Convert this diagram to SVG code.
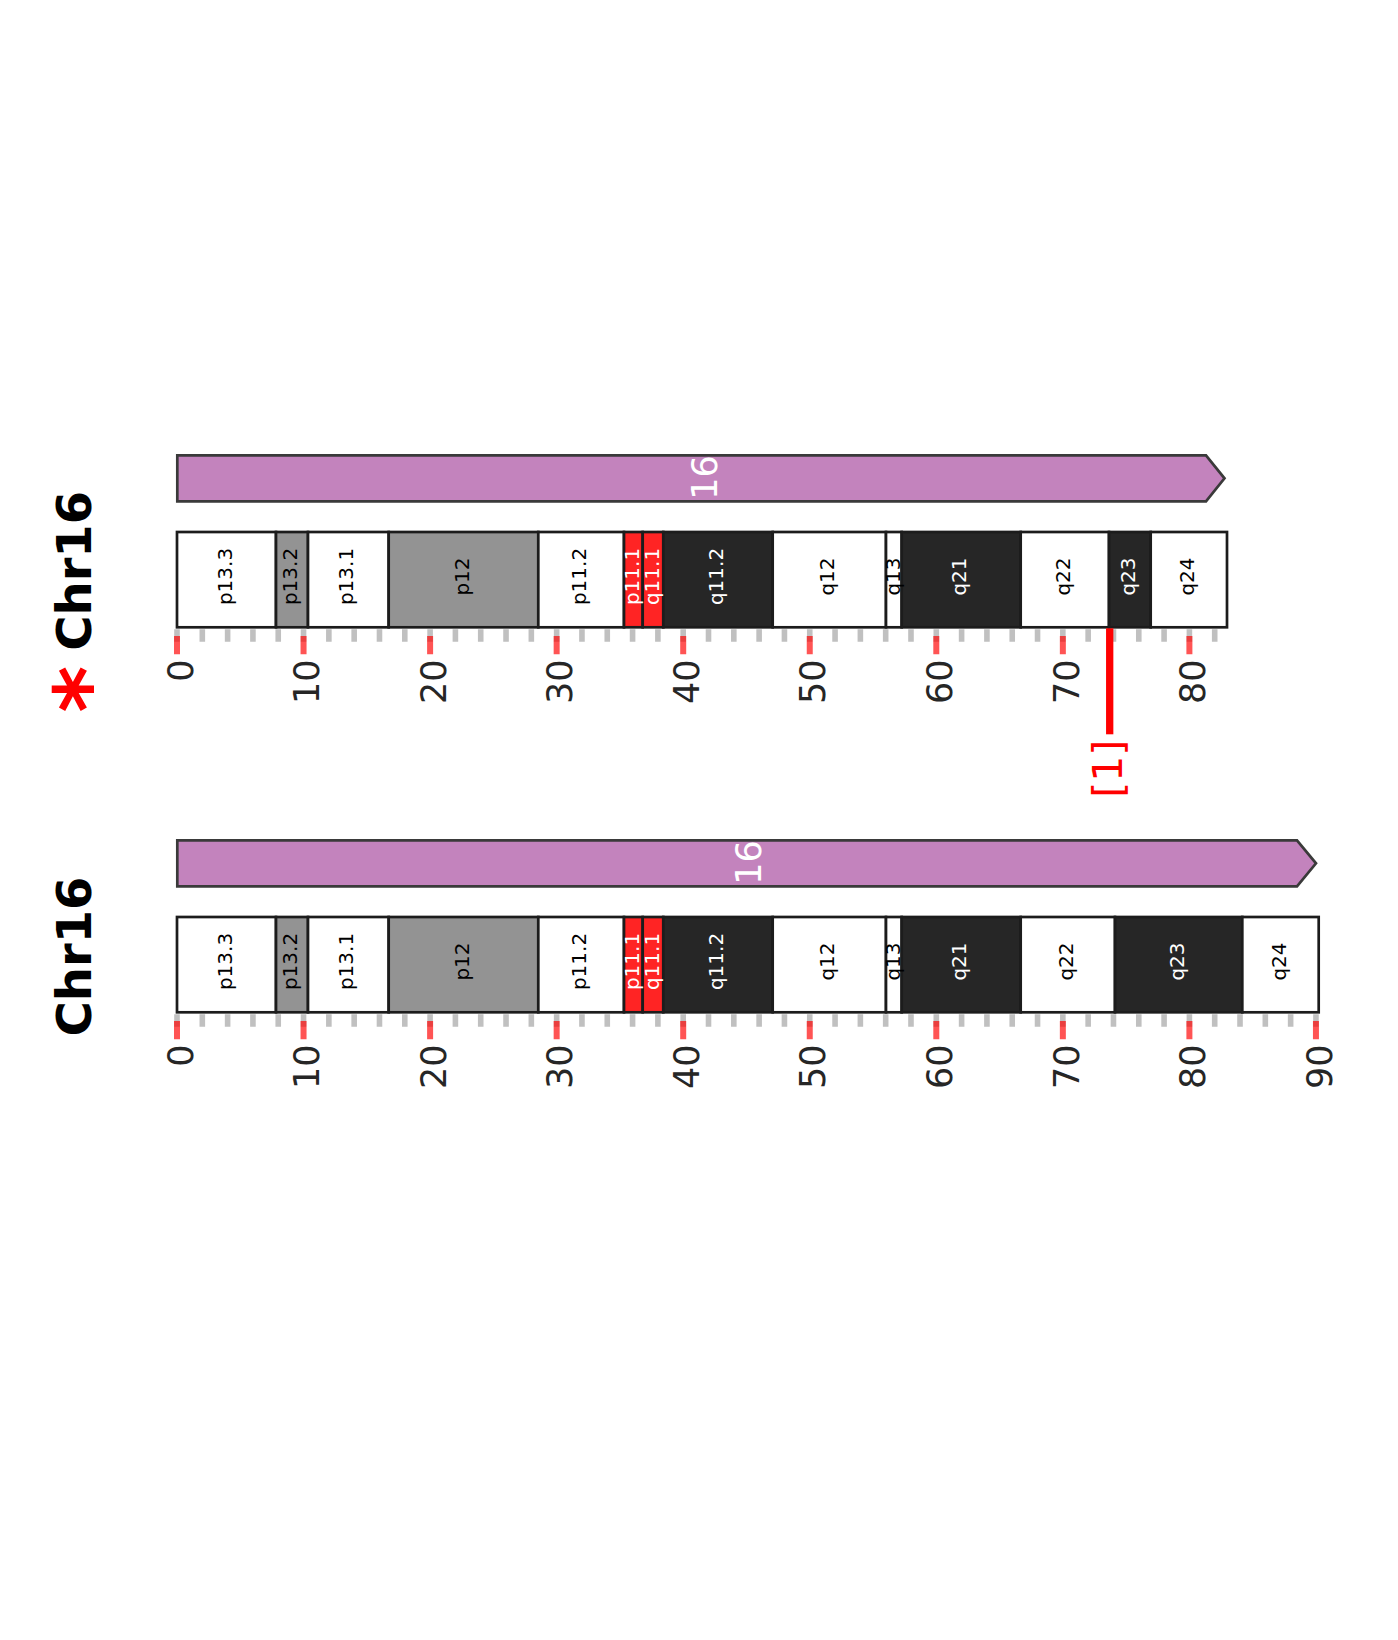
<svg xmlns="http://www.w3.org/2000/svg" width="1398" height="1640" viewBox="0 0 1398 1640">
<style>
.bg{fill:#ffffff}
.bar{fill:#c383bd;stroke:#3a3a3a;stroke-width:2.7;stroke-linejoin:miter}
.band{stroke:#1c1c1c;stroke-width:2.7}
.w{fill:#ffffff}.g{fill:#939393}.d{fill:#262626}.r{fill:#ff2424}
.lbl{font-family:"DejaVu Sans",sans-serif;font-size:20px;text-anchor:middle}
.lk{fill:#000000}.lw{fill:#ffffff}
.tickg{stroke:#c0c0c0;stroke-width:12.4;fill:none}
.tickr{stroke:#ff0000;stroke-opacity:0.67;stroke-width:18.3;fill:none}
.tl{font-family:"DejaVu Sans",sans-serif;font-size:35px;fill:#262626;text-anchor:end}
.title{font-family:"DejaVu Sans",sans-serif;font-size:48px;font-weight:bold;fill:#000000}
.num{font-family:"DejaVu Sans",sans-serif;font-size:35px;fill:#ffffff;text-anchor:middle}
</style>
<rect class="bg" x="0" y="0" width="1398" height="1640"/>

<g id="title-top">
<text class="title" transform="translate(91.3,650.7) rotate(-90)">Chr16</text>
<text transform="translate(119,689.3) rotate(-90)" style="font-family:'DejaVu Sans',sans-serif;font-size:90px;font-weight:bold;fill:#ff0000;text-anchor:middle">*</text>
</g>

<g id="chrom-top-bar">
<polygon class="bar" points="177.3,455.3 1206,455.3 1224.5,478.3 1206,501.3 177.3,501.3"/>
<text class="num" transform="translate(716.5,477.5) rotate(-90)">16</text>
</g>

<g id="chrom-top-bands">
<rect class="band w" x="177" y="532" width="99" height="95.3"/>
<rect class="band g" x="276" y="532" width="32" height="95.3"/>
<rect class="band w" x="308" y="532" width="80.7" height="95.3"/>
<rect class="band g" x="388.7" y="532" width="149.6" height="95.3"/>
<rect class="band w" x="538.3" y="532" width="85.7" height="95.3"/>
<rect class="band r" x="624" y="532" width="18.7" height="95.3"/>
<rect class="band r" x="642.7" y="532" width="20.6" height="95.3"/>
<rect class="band d" x="663.3" y="532" width="109.4" height="95.3"/>
<rect class="band w" x="772.7" y="532" width="113.3" height="95.3"/>
<rect class="band w" x="886" y="532" width="15.7" height="95.3"/>
<rect class="band d" x="901.7" y="532" width="119" height="95.3"/>
<rect class="band w" x="1020.7" y="532" width="88.3" height="95.3"/>
<rect class="band d" x="1109" y="532" width="41.7" height="95.3"/>
<rect class="band w" x="1150.7" y="532" width="76.3" height="95.3"/>
<g class="lbl">
<text class="lk" transform="translate(231.5,576.5) rotate(-90)">p13.3</text>
<text class="lk" transform="translate(297,576.5) rotate(-90)">p13.2</text>
<text class="lk" transform="translate(353.3,576.5) rotate(-90)">p13.1</text>
<text class="lk" transform="translate(468.5,576.5) rotate(-90)">p12</text>
<text class="lk" transform="translate(586.2,576.5) rotate(-90)">p11.2</text>
<text class="lw" transform="translate(639.3,576.5) rotate(-90)">p11.1</text>
<text class="lw" transform="translate(659,576.5) rotate(-90)">q11.1</text>
<text class="lw" transform="translate(723,576.5) rotate(-90)">q11.2</text>
<text class="lk" transform="translate(834.3,576.5) rotate(-90)">q12</text>
<text class="lk" transform="translate(899.8,576.5) rotate(-90)">q13</text>
<text class="lw" transform="translate(966.2,576.5) rotate(-90)">q21</text>
<text class="lk" transform="translate(1069.8,576.5) rotate(-90)">q22</text>
<text class="lw" transform="translate(1134.8,576.5) rotate(-90)">q23</text>
<text class="lk" transform="translate(1193.8,576.5) rotate(-90)">q24</text>
</g>
</g>

<g id="axis-top">
<line class="tickg" x1="174.2" y1="635.5" x2="1217.5" y2="635.5" stroke-dasharray="5.6 19.71"/>
<line class="tickr" x1="174" y1="645.2" x2="1193" y2="645.2" stroke-dasharray="6 120.55"/>
<text class="tl" transform="translate(192.6,659.4) rotate(-90)">0</text>
<text class="tl" transform="translate(319.2,659.4) rotate(-90)">10</text>
<text class="tl" transform="translate(445.7,659.4) rotate(-90)">20</text>
<text class="tl" transform="translate(572.3,659.4) rotate(-90)">30</text>
<text class="tl" transform="translate(698.8,659.4) rotate(-90)">40</text>
<text class="tl" transform="translate(825.4,659.4) rotate(-90)">50</text>
<text class="tl" transform="translate(951.9,659.4) rotate(-90)">60</text>
<text class="tl" transform="translate(1078.5,659.4) rotate(-90)">70</text>
<text class="tl" transform="translate(1205,659.4) rotate(-90)">80</text>
</g>

<g id="marker-1">
<line x1="1109.7" y1="628.3" x2="1109.7" y2="734.3" stroke="#ff0000" stroke-width="7.3"/>
<text transform="translate(1122,768.8) rotate(-90)" style="font-family:'DejaVu Sans',sans-serif;font-size:41px;fill:#ff0000;text-anchor:middle">[1]</text>
</g>

<g id="title-bottom">
<text class="title" transform="translate(91.3,1036.4) rotate(-90)">Chr16</text>
</g>

<g id="chrom-bottom-bar">
<polygon class="bar" points="177.3,840.3 1297,840.3 1316,863.3 1297,886.3 177.3,886.3"/>
<text class="num" transform="translate(761,862.5) rotate(-90)">16</text>
</g>

<g id="chrom-bottom-bands">
<rect class="band w" x="177" y="917" width="99" height="95.3"/>
<rect class="band g" x="276" y="917" width="32" height="95.3"/>
<rect class="band w" x="308" y="917" width="80.7" height="95.3"/>
<rect class="band g" x="388.7" y="917" width="149.6" height="95.3"/>
<rect class="band w" x="538.3" y="917" width="85.7" height="95.3"/>
<rect class="band r" x="624" y="917" width="18.7" height="95.3"/>
<rect class="band r" x="642.7" y="917" width="20.6" height="95.3"/>
<rect class="band d" x="663.3" y="917" width="109.4" height="95.3"/>
<rect class="band w" x="772.7" y="917" width="113.3" height="95.3"/>
<rect class="band w" x="886" y="917" width="15.7" height="95.3"/>
<rect class="band d" x="901.7" y="917" width="119" height="95.3"/>
<rect class="band w" x="1020.7" y="917" width="94.3" height="95.3"/>
<rect class="band d" x="1115" y="917" width="127.3" height="95.3"/>
<rect class="band w" x="1242.3" y="917" width="76.4" height="95.3"/>
<g class="lbl">
<text class="lk" transform="translate(231.5,961.5) rotate(-90)">p13.3</text>
<text class="lk" transform="translate(297,961.5) rotate(-90)">p13.2</text>
<text class="lk" transform="translate(353.3,961.5) rotate(-90)">p13.1</text>
<text class="lk" transform="translate(468.5,961.5) rotate(-90)">p12</text>
<text class="lk" transform="translate(586.2,961.5) rotate(-90)">p11.2</text>
<text class="lw" transform="translate(639.3,961.5) rotate(-90)">p11.1</text>
<text class="lw" transform="translate(659,961.5) rotate(-90)">q11.1</text>
<text class="lw" transform="translate(723,961.5) rotate(-90)">q11.2</text>
<text class="lk" transform="translate(834.3,961.5) rotate(-90)">q12</text>
<text class="lk" transform="translate(899.8,961.5) rotate(-90)">q13</text>
<text class="lw" transform="translate(966.2,961.5) rotate(-90)">q21</text>
<text class="lk" transform="translate(1072.8,961.5) rotate(-90)">q22</text>
<text class="lw" transform="translate(1183.6,961.5) rotate(-90)">q23</text>
<text class="lk" transform="translate(1285.5,961.5) rotate(-90)">q24</text>
</g>
</g>

<g id="axis-bottom">
<line class="tickg" x1="174.2" y1="1020.5" x2="1319" y2="1020.5" stroke-dasharray="5.6 19.71"/>
<line class="tickr" x1="174" y1="1030.2" x2="1319.5" y2="1030.2" stroke-dasharray="6 120.55"/>
<text class="tl" transform="translate(192.6,1044.4) rotate(-90)">0</text>
<text class="tl" transform="translate(319.2,1044.4) rotate(-90)">10</text>
<text class="tl" transform="translate(445.7,1044.4) rotate(-90)">20</text>
<text class="tl" transform="translate(572.3,1044.4) rotate(-90)">30</text>
<text class="tl" transform="translate(698.8,1044.4) rotate(-90)">40</text>
<text class="tl" transform="translate(825.4,1044.4) rotate(-90)">50</text>
<text class="tl" transform="translate(951.9,1044.4) rotate(-90)">60</text>
<text class="tl" transform="translate(1078.5,1044.4) rotate(-90)">70</text>
<text class="tl" transform="translate(1205,1044.4) rotate(-90)">80</text>
<text class="tl" transform="translate(1331.6,1044.4) rotate(-90)">90</text>
</g>

<g id="connectors"></g>
</svg>
